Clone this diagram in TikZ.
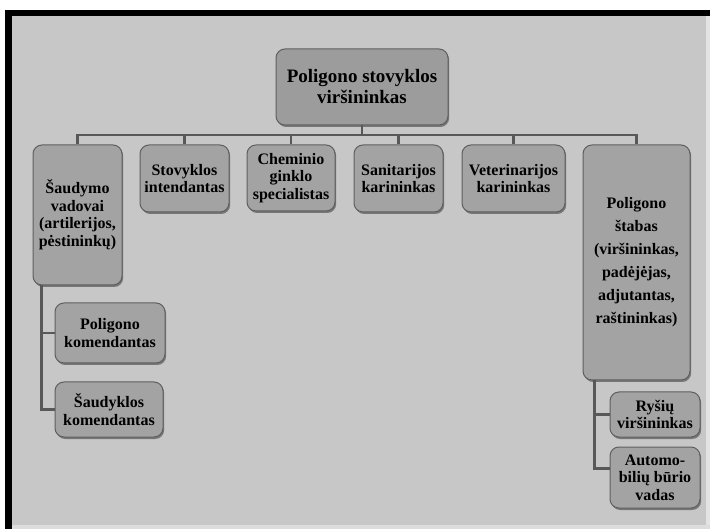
\documentclass[tikz,border=0pt]{standalone}
\usepackage{fontspec}
\setmainfont{Liberation Serif}
\usetikzlibrary{shadows}
\definecolor{bg}{RGB}{199,199,199}
\definecolor{boxfill}{RGB}{163,163,163}
\definecolor{topfill}{RGB}{156,156,156}
\definecolor{boxline}{RGB}{95,95,95}
\definecolor{connc}{RGB}{88,88,88}
\begin{document}
\begin{tikzpicture}[x=1pt,y=-1pt,
  box/.style={draw=boxline, line width=1pt, fill=boxfill, rounded corners=9pt,
    align=center, inner sep=1pt,
    font=\bfseries\fontsize{16}{17.5}\selectfont,
    drop shadow={shadow xshift=1.2pt, shadow yshift=-2pt, fill=black, opacity=0.4}},
  conn/.style={draw=connc, line width=2.2pt}]
\useasboundingbox (0,0) rectangle (710,529);
\fill[white] (0,0) rectangle (710,529);
\fill[black] (5,10) rectangle (710,529);
\fill[bg] (12,16) rectangle (710,529);
\fill[bg!50!white] (706,16) rectangle (710,529);
\fill[bg!60!white] (12,525) rectangle (710,529);

\node[box, fill=topfill, minimum width=172pt, minimum height=76pt,
  font=\bfseries\fontsize{19}{21}\selectfont] (top) at (362,87)
  {Poligono stovyklos\\viršininkas};

\node[box, minimum width=89pt, minimum height=140pt] (saud) at (77.5,215)
  {Šaudymo\\vadovai\\(artilerijos,\\pėstininkų)};
\node[box, minimum width=89pt, minimum height=67pt] (stov) at (184.5,178.5)
  {Stovyklos\\intendantas};
\node[box, minimum width=88pt, minimum height=66pt] (chem) at (291,178)
  {Cheminio\\ginklo\\specialistas};
\node[box, minimum width=89pt, minimum height=67pt] (sani) at (398.5,178.5)
  {Sanitarijos\\karininkas};
\node[box, minimum width=103pt, minimum height=67pt] (vet) at (513.5,178.5)
  {Veterinarijos\\karininkas};
\node[box, minimum width=107pt, minimum height=235pt,
  font=\bfseries\fontsize{16}{23}\selectfont] (stab) at (636.5,262.5)
  {Poligono\\štabas\\(viršininkas,\\padėjėjas,\\adjutantas,\\raštininkas)};

\node[box, minimum width=110pt, minimum height=60pt] (pkom) at (110,333)
  {Poligono\\komendantas};
\node[box, minimum width=108pt, minimum height=55pt] (skom) at (109,409.5)
  {Šaudyklos\\komendantas};

\node[box, minimum width=90pt, minimum height=45pt] (rys) at (655,414.5)
  {Ryšių\\viršininkas};
\node[box, minimum width=90pt, minimum height=61pt] (auto) at (655,477.5)
  {Automo-\\bilių būrio\\vadas};

\coordinate (bus) at ([yshift=-9.5pt]top.south);
\foreach \c in {saud,stov,chem,sani,vet,stab}
  \draw[conn] (bus) -| (\c.north);
\draw[conn] (top.south) -- (bus);

\coordinate (lt) at ([xshift=9pt]saud.south west);
\draw[conn] (lt) |- (pkom.west);
\draw[conn] (lt) |- (skom.west);

\coordinate (rt) at ([xshift=12pt]stab.south west);
\draw[conn] (rt) |- (rys.west);
\draw[conn] (rt) |- ([yshift=9pt]auto.west);
\end{tikzpicture}
\end{document}
